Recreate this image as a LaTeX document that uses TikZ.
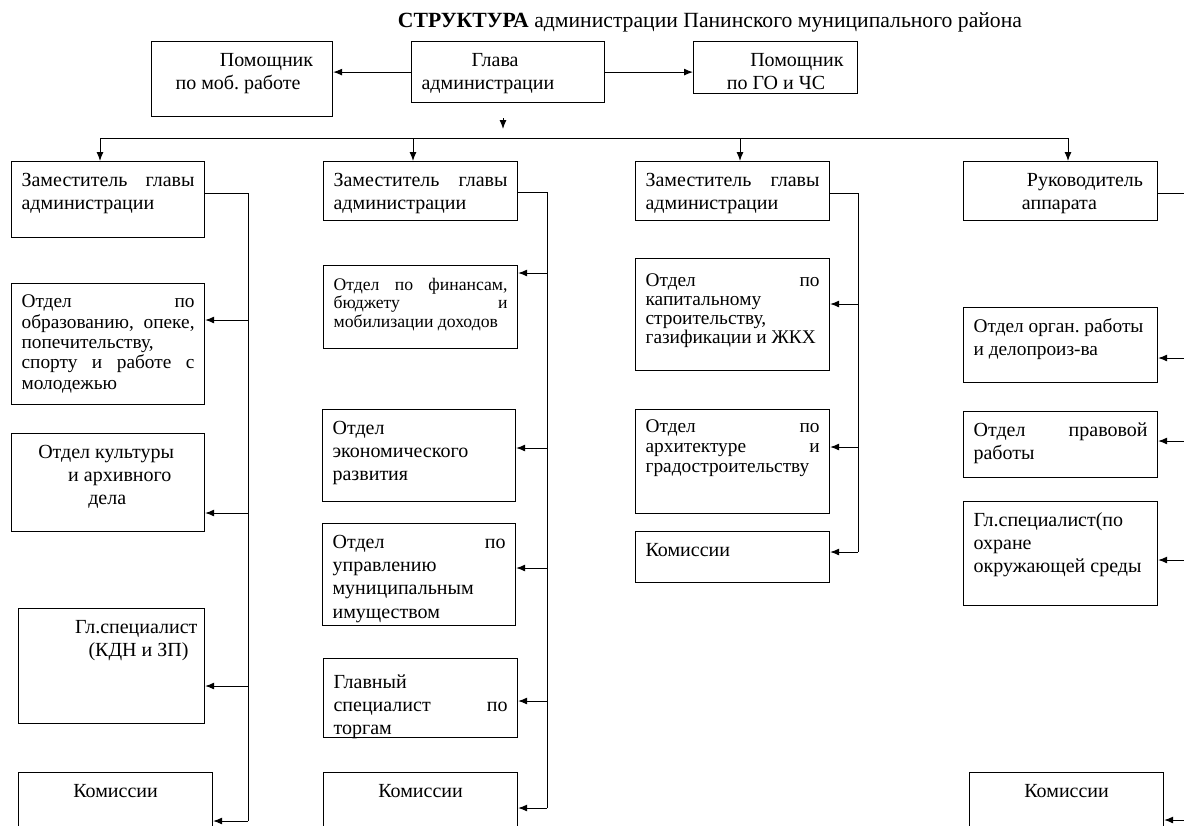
\documentclass[tikz,border=0pt]{standalone}
\usepackage{fontspec}
\setmainfont{Liberation Serif}
\usetikzlibrary{arrows.meta}
\frenchspacing

\newlength{\pxu}
\setlength{\pxu}{0.6pt}
\newcommand{\cell}[4][0pt]{\parbox[t][\dimexpr#3\pxu-10pt\relax][t]{\dimexpr#2\pxu-12pt\relax}{\vspace*{#1}\strut#4}}

\begin{document}
\begin{tikzpicture}[x=0.6pt,y=-0.6pt,
    unit/.style={draw,line width=0.7pt,anchor=north west,inner xsep=6pt,inner ysep=5pt,font=\fontsize{12}{14}\selectfont},
    tight/.style={font=\fontsize{11.6}{12.2}\selectfont},
    small/.style={font=\fontsize{10.6}{11.2}\selectfont},
    arr/.style={-{Latex[length=5.4pt,width=4.2pt]},line width=0.6pt},
    bus/.style={line width=0.6pt}
    ]
    \useasboundingbox (0,0) rectangle (1184,825);
    \clip (0,0) rectangle (1184,825);

    \node[anchor=base,font=\fontsize{13}{16}\selectfont] (title) at (710,27) {\textbf{СТРУКТУРА} администрации Панинского муниципального района};

    % top row
    \node[unit] (mob) at (151,41) {\cell{181}{75}{\hspace*{35pt}Помощник\\\hspace*{8.4pt}по моб. работе}};
    \node[unit] (glava) at (411,41) {\cell{193}{61}{\hspace*{30pt}Глава\\администрации}};
    \node[unit] (go) at (693,41) {\cell{164}{52}{\hspace*{28pt}Помощник\\\hspace*{14pt}по ГО и ЧС}};

    % first column
    \node[unit] (zam1) at (11,161) {\cell{193}{76}{Заместитель главы\linebreak администрации}};
    \node[unit,tight] (obr) at (11,283) {\cell[1pt]{193}{121}{Отдел по\linebreak образованию, опеке,\linebreak попечительству,\\спорту и работе с\linebreak молодежью}};
    \node[unit] (kult) at (11,433) {\cell{193}{98}{\hspace*{10pt}Отдел культуры\\\hspace*{28pt}и архивного\\\hspace*{40pt}дела}};
    \node[unit] (glsp1) at (18,608) {\cell{186}{115}{\hspace*{28pt}Гл.специалист\\\hspace*{36pt}(КДН и ЗП)}};
    \node[unit] (kom1) at (18,772) {\cell{194}{80}{\centering Комиссии}};

    % second column
    \node[unit] (zam2) at (323,161) {\cell{194}{59}{Заместитель главы\linebreak администрации}};
    \node[unit,small] (fin) at (323,265) {\cell[2pt]{194}{83}{Отдел по финансам,\linebreak бюджету и\linebreak мобилизации доходов}};
    \node[unit] (eco) at (322,409) {\cell{193}{92}{Отдел\\экономического\\развития}};
    \node[unit] (upr) at (322,523) {\cell{193}{102}{Отдел по\linebreak управлению\\муниципальным\\имуществом}};
    \node[unit] (glsp2) at (323,658) {\cell[3pt]{194}{79}{Главный\\специалист по\linebreak торгам}};
    \node[unit] (kom2) at (323,772) {\cell{194}{80}{\centering Комиссии}};

    % third column
    \node[unit] (zam3) at (635,161) {\cell{194}{59}{Заместитель главы\linebreak администрации}};
    \node[unit,font=\fontsize{11.6}{11.4}\selectfont] (kap) at (635,258) {\cell[4pt]{194}{112}{Отдел по\linebreak капитальному\\строительству,\\газификации и ЖКХ}};
    \node[unit,tight] (arch) at (635,409) {\cell{194}{104}{Отдел по\linebreak архитектуре и\linebreak градостроительству}};
    \node[unit] (kom3) at (635,531) {\cell{194}{51}{Комиссии}};

    % fourth column
    \node[unit] (ruk) at (963,161) {\cell{194}{59}{\hspace*{32pt}Руководитель\\\hspace*{29pt}аппарата}};
    \node[unit,font=\fontsize{11.6}{14}\selectfont] (org) at (963,307) {\cell{194}{75}{Отдел орган. работы\\и делопроиз-ва}};
    \node[unit] (prav) at (963,411) {\cell{194}{66}{Отдел правовой\linebreak работы}};
    \node[unit] (glsp4) at (963,501) {\cell{194}{104}{Гл.специалист(по\\охране\\окружающей среды}};
    \node[unit] (kom4) at (969,772) {\cell{194}{80}{\centering Комиссии}};

    % the edges
    \draw[arr] (glava.west) -- (glava.west -| mob.east);
    \draw[arr] (glava.east) -- (glava.east -| go.west);
    \coordinate (g1) at (503,118);
    \coordinate (g2) at (503,129);
    \draw[arr] (g1) -- (g2);

    \coordinate (h1) at (100,138);
    \coordinate (h2) at (413,138);
    \coordinate (h3) at (740,138);
    \coordinate (h4) at (1068,138);
    \draw[bus] (h1) -- (h4);
    \draw[arr] (h1) -- (h1 |- zam1.north);
    \draw[arr] (h2) -- (h2 |- zam2.north);
    \draw[arr] (h3) -- (h3 |- zam3.north);
    \draw[arr] (h4) -- (h4 |- ruk.north);

    \coordinate (b1) at (248,193);
    \coordinate (b1e) at (248,821);
    \draw[bus] (zam1.east |- b1) -- (b1) -- (b1e);
    \coordinate (a11) at (248,320);
    \coordinate (a12) at (248,513);
    \coordinate (a13) at (248,686);
    \draw[arr] (a11) -- (a11 -| obr.east);
    \draw[arr] (a12) -- (a12 -| kult.east);
    \draw[arr] (a13) -- (a13 -| glsp1.east);
    \draw[arr] (b1e) -- (b1e -| kom1.east);

    \coordinate (b2) at (547,192);
    \coordinate (b2e) at (547,808);
    \draw[bus] (zam2.east |- b2) -- (b2) -- (b2e);
    \coordinate (a21) at (547,273);
    \coordinate (a22) at (547,448);
    \coordinate (a23) at (547,568);
    \coordinate (a24) at (547,701);
    \draw[arr] (a21) -- (a21 -| fin.east);
    \draw[arr] (a22) -- (a22 -| eco.east);
    \draw[arr] (a23) -- (a23 -| upr.east);
    \draw[arr] (a24) -- (a24 -| glsp2.east);
    \draw[arr] (b2e) -- (b2e -| kom2.east);

    \coordinate (b3) at (858,193);
    \coordinate (b3e) at (858,552);
    \draw[bus] (zam3.east |- b3) -- (b3) -- (b3e);
    \coordinate (a31) at (858,304);
    \coordinate (a32) at (858,447);
    \draw[arr] (a31) -- (a31 -| kap.east);
    \draw[arr] (a32) -- (a32 -| arch.east);
    \draw[arr] (b3e) -- (b3e -| kom3.east);

    \coordinate (b4) at (1192,193);
    \coordinate (b4e) at (1192,820);
    \draw[bus] (ruk.east |- b4) -- (b4) -- (b4e);
    \coordinate (a41) at (1192,358);
    \coordinate (a42) at (1192,441);
    \coordinate (a43) at (1192,560);
    \draw[arr] (a41) -- (a41 -| org.east);
    \draw[arr] (a42) -- (a42 -| prav.east);
    \draw[arr] (a43) -- (a43 -| glsp4.east);
    \draw[arr] (b4e) -- (b4e -| kom4.east);
\end{tikzpicture}
\end{document}
